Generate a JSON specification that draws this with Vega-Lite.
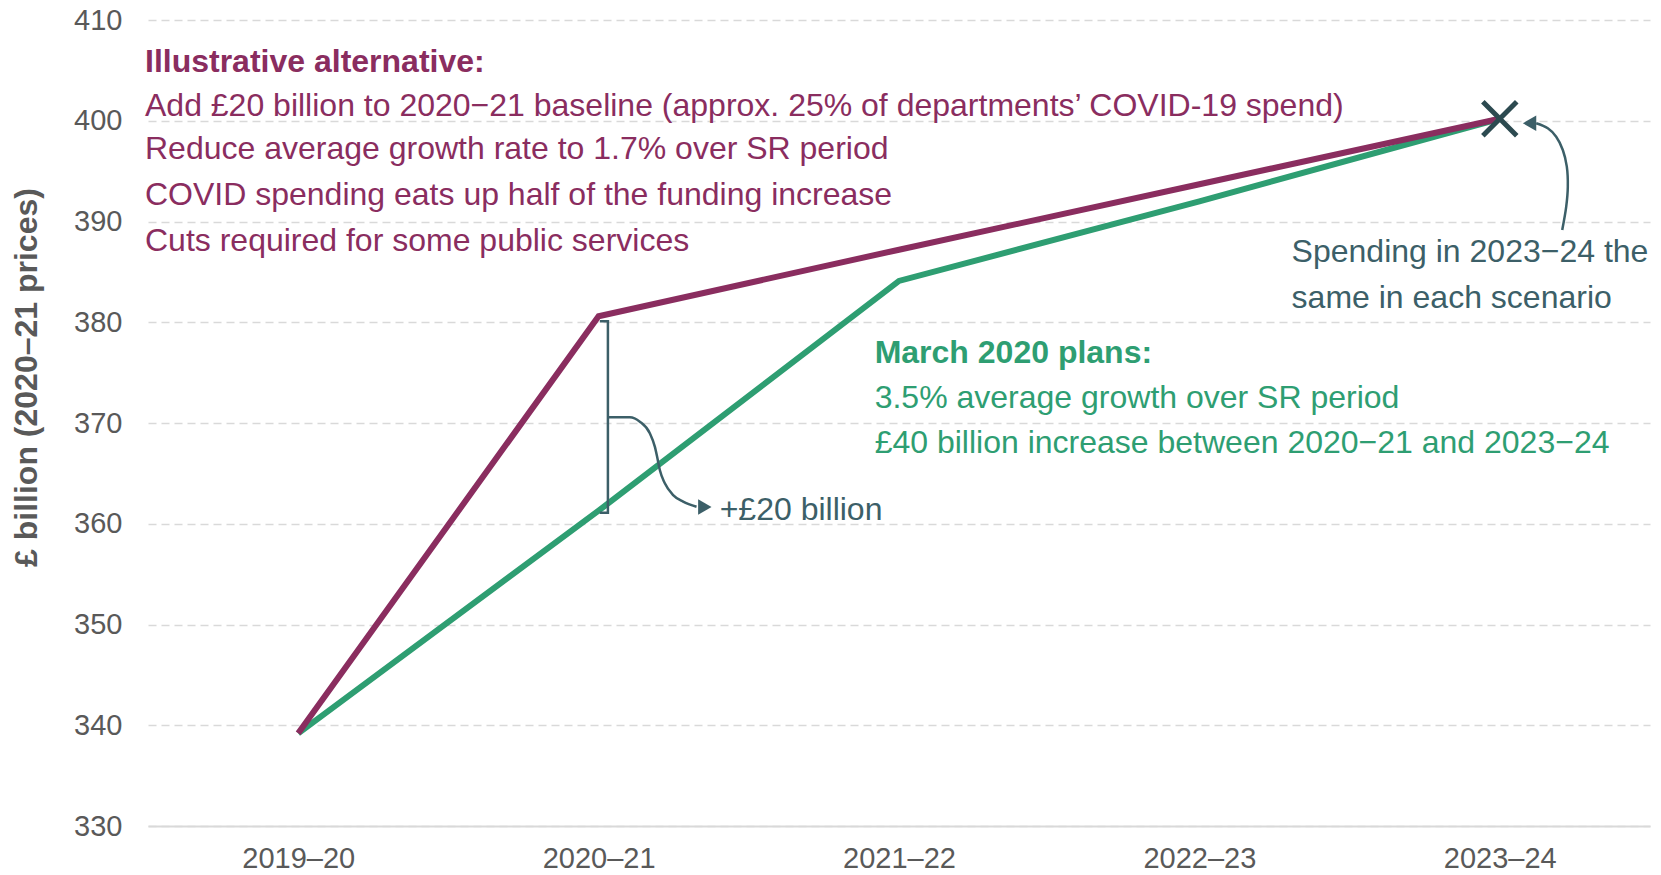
{
  "$schema": "https://vega.github.io/schema/vega-lite/v6.json",
  "width": 1502,
  "height": 806,
  "autosize": {"type": "none"},
  "padding": {"left": 148, "top": 20, "right": 11, "bottom": 49},
  "background": "white",
  "config": {"view": {"stroke": null}, "font": "Liberation Sans"},
  "datasets": {
    "series": [
      {"x": 0, "y": 339.2, "scenario": "March 2020 plans"},
      {"x": 1, "y": 361.3, "scenario": "March 2020 plans"},
      {"x": 2, "y": 384.1, "scenario": "March 2020 plans"},
      {"x": 3, "y": 392.0, "scenario": "March 2020 plans"},
      {"x": 4, "y": 400.2, "scenario": "March 2020 plans"},
      {"x": 0, "y": 339.2, "scenario": "Illustrative alternative"},
      {"x": 1, "y": 380.6, "scenario": "Illustrative alternative"},
      {"x": 2, "y": 387.2, "scenario": "Illustrative alternative"},
      {"x": 3, "y": 393.7, "scenario": "Illustrative alternative"},
      {"x": 4, "y": 400.2, "scenario": "Illustrative alternative"}
    ],
    "marker": [{"x": 4, "y": 400.2}],
    "bracket": [
      {"x": 1.004, "y": 380.1, "k": 0},
      {"x": 1.031, "y": 380.1, "k": 1},
      {"x": 1.031, "y": 361.1, "k": 2},
      {"x": 1.004, "y": 361.1, "k": 3}
    ],
    "curve1": [
      {"x": 1.031, "y": 370.57},
      {"x": 1.0707, "y": 370.57},
      {"x": 1.104, "y": 370.57},
      {"x": 1.1373, "y": 370.13},
      {"x": 1.1705, "y": 368.98},
      {"x": 1.1872, "y": 367.65},
      {"x": 1.1948, "y": 366.65},
      {"x": 1.2038, "y": 365.33},
      {"x": 1.2205, "y": 364.01},
      {"x": 1.2481, "y": 362.85},
      {"x": 1.2814, "y": 362.19},
      {"x": 1.326, "y": 361.69}
    ],
    "curve2": [
      {"x": 4.2078, "y": 389.16, "k": 0},
      {"x": 4.2211, "y": 391.47, "k": 1},
      {"x": 4.2264, "y": 393.45, "k": 2},
      {"x": 4.2231, "y": 395.44, "k": 3},
      {"x": 4.2098, "y": 397.1, "k": 4},
      {"x": 4.1877, "y": 398.42, "k": 5},
      {"x": 4.1598, "y": 399.25, "k": 6},
      {"x": 4.1212, "y": 399.75, "k": 7}
    ],
    "heads": [
      {"x": 1.3536, "y": 361.66, "dir": "right"},
      {"x": 4.099, "y": 399.75, "dir": "left"}
    ],
    "notes": [
      {"x": -0.51, "y": 405.85, "style": "pb", "text": "Illustrative alternative:"},
      {"x": -0.51, "y": 401.47, "style": "p", "text": "Add £20 billion to 2020−21 baseline (approx. 25% of departments’ COVID-19 spend)"},
      {"x": -0.51, "y": 397.16, "style": "p", "text": "Reduce average growth rate to 1.7% over SR period"},
      {"x": -0.51, "y": 392.64, "style": "p", "text": "COVID spending eats up half of the funding increase"},
      {"x": -0.51, "y": 388.11, "style": "p", "text": "Cuts required for some public services"},
      {"x": 1.919, "y": 376.98, "style": "gb", "text": "March 2020 plans:"},
      {"x": 1.919, "y": 372.45, "style": "g", "text": "3.5% average growth over SR period"},
      {"x": 1.919, "y": 368.04, "style": "g", "text": "£40 billion increase between 2020−21 and 2023−24"},
      {"x": 3.307, "y": 386.96, "style": "t", "text": "Spending in 2023−24 the"},
      {"x": 3.307, "y": 382.44, "style": "t", "text": "same in each scenario"},
      {"x": 1.403, "y": 361.41, "style": "t", "text": "+£20 billion"}
    ]
  },
  "encoding": {
    "x": {
      "field": "x",
      "type": "quantitative",
      "scale": {"domain": [-0.5, 4.5], "nice": false, "zero": false},
      "axis": {
        "values": [0, 1, 2, 3, 4],
        "labelExpr": "['2019–20','2020–21','2021–22','2022–23','2023–24'][datum.value]",
        "grid": false,
        "ticks": false,
        "domain": true,
        "domainColor": "#d9d9d9",
        "domainWidth": 2,
        "labelFont": "Liberation Sans",
        "labelFontSize": 29,
        "labelColor": "#595959",
        "labelPadding": 18,
        "labelFlush": false,
        "title": null
      }
    },
    "y": {
      "field": "y",
      "type": "quantitative",
      "scale": {"domain": [330, 410], "nice": false, "zero": false},
      "axis": {
        "values": [330, 340, 350, 360, 370, 380, 390, 400, 410],
        "domain": false,
        "ticks": false,
        "grid": true,
        "gridColor": "#d9d9d9",
        "gridDash": [8, 5],
        "gridWidth": 1.5,
        "labelFont": "Liberation Sans",
        "labelFontSize": 29,
        "labelColor": "#595959",
        "labelPadding": 26,
        "title": "£ billion (2020–21 prices)",
        "titleFont": "Liberation Sans",
        "titleFontSize": 32,
        "titleFontWeight": "bold",
        "titleColor": "#595959",
        "titlePadding": 30,
        "titleY": 357
      }
    }
  },
  "layer": [
    {
      "data": {"name": "series"},
      "transform": [{"filter": "datum.scenario === 'March 2020 plans'"}],
      "mark": {"type": "line", "color": "#2E9E72", "strokeWidth": 6}
    },
    {
      "data": {"name": "series"},
      "transform": [{"filter": "datum.scenario === 'Illustrative alternative'"}],
      "mark": {"type": "line", "color": "#8A2D5F", "strokeWidth": 6}
    },
    {
      "data": {"name": "bracket"},
      "mark": {"type": "line", "color": "#3C5F68", "strokeWidth": 2.5},
      "encoding": {"order": {"field": "k", "type": "quantitative"}}
    },
    {
      "data": {"name": "curve1"},
      "mark": {"type": "line", "color": "#3C5F68", "strokeWidth": 2.5, "interpolate": "monotone"}
    },
    {
      "data": {"name": "curve2"},
      "mark": {"type": "line", "color": "#3C5F68", "strokeWidth": 2.5, "interpolate": "catmull-rom"},
      "encoding": {"order": {"field": "k", "type": "quantitative"}}
    },
    {
      "data": {"name": "heads"},
      "transform": [{"filter": "datum.dir === 'right'"}],
      "mark": {"type": "point", "shape": "triangle-right", "filled": true, "color": "#3C5F68", "size": 240, "opacity": 1}
    },
    {
      "data": {"name": "heads"},
      "transform": [{"filter": "datum.dir === 'left'"}],
      "mark": {"type": "point", "shape": "triangle-left", "filled": true, "color": "#3C5F68", "size": 240, "opacity": 1}
    },
    {
      "data": {"name": "marker"},
      "mark": {"type": "point", "shape": "M-1,-1L1,1M-1,1L1,-1", "filled": false, "stroke": "#2C4A50", "strokeWidth": 5, "size": 1150, "opacity": 1}
    },
    {
      "data": {"name": "notes"},
      "transform": [{"filter": "datum.style === 'pb'"}],
      "mark": {"type": "text", "align": "left", "baseline": "middle", "font": "Liberation Sans", "fontSize": 32, "fontWeight": "bold", "color": "#8A2D5F"},
      "encoding": {"text": {"field": "text"}}
    },
    {
      "data": {"name": "notes"},
      "transform": [{"filter": "datum.style === 'p'"}],
      "mark": {"type": "text", "align": "left", "baseline": "middle", "font": "Liberation Sans", "fontSize": 32, "color": "#8A2D5F"},
      "encoding": {"text": {"field": "text"}}
    },
    {
      "data": {"name": "notes"},
      "transform": [{"filter": "datum.style === 'gb'"}],
      "mark": {"type": "text", "align": "left", "baseline": "middle", "font": "Liberation Sans", "fontSize": 32, "fontWeight": "bold", "color": "#2E9E72"},
      "encoding": {"text": {"field": "text"}}
    },
    {
      "data": {"name": "notes"},
      "transform": [{"filter": "datum.style === 'g'"}],
      "mark": {"type": "text", "align": "left", "baseline": "middle", "font": "Liberation Sans", "fontSize": 32, "color": "#2E9E72"},
      "encoding": {"text": {"field": "text"}}
    },
    {
      "data": {"name": "notes"},
      "transform": [{"filter": "datum.style === 't'"}],
      "mark": {"type": "text", "align": "left", "baseline": "middle", "font": "Liberation Sans", "fontSize": 32, "color": "#3C5F68"},
      "encoding": {"text": {"field": "text"}}
    }
  ]
}
